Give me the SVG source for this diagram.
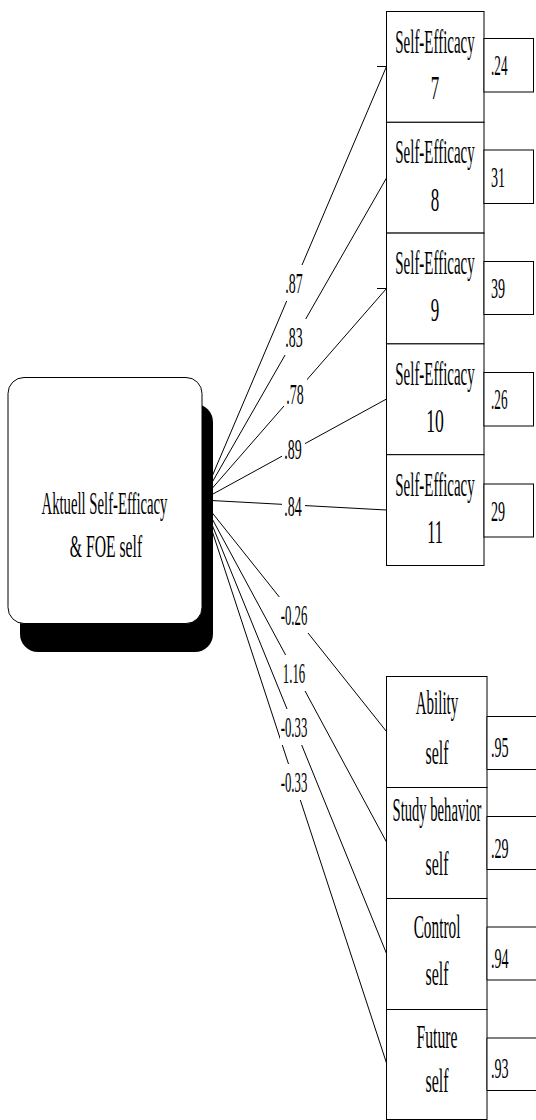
<svg xmlns="http://www.w3.org/2000/svg" width="536" height="1120" viewBox="0 0 536 1120">
  <style>
    .t { font-family: "Liberation Serif", "Times New Roman", serif; fill: #000; }
    .m { text-anchor: middle; }
    .box { fill: #fff; stroke: #000; stroke-width: 1; }
    .err { fill: #fff; stroke: #000; stroke-width: 1; }
    .ln { stroke: #000; stroke-width: 1; fill: none; }
    .gap { fill: #fff; stroke: none; }
    .bt { font-size: 34px; }
    .et { font-size: 30px; }
    .pt { font-size: 29px; }
  </style>
  <rect width="536" height="1120" fill="#fff"/>

  <!-- connectors: paths from the factor to each indicator -->
  <g id="connectors">
    <line class="ln" x1="202" y1="500" x2="386.5" y2="66.5"/>
    <line class="ln" x1="202" y1="500" x2="386.5" y2="178"/>
    <line class="ln" x1="202" y1="500" x2="386.5" y2="288.5"/>
    <line class="ln" x1="202" y1="500" x2="386.5" y2="399"/>
    <line class="ln" x1="202" y1="500" x2="386.5" y2="510"/>
    <line class="ln" x1="202" y1="500" x2="386.5" y2="731.5"/>
    <line class="ln" x1="202" y1="500" x2="386.5" y2="842"/>
    <line class="ln" x1="202" y1="500" x2="386.5" y2="953.5"/>
    <line class="ln" x1="202" y1="500" x2="386.5" y2="1063"/>
    <!-- arrow-end ticks -->
    <line class="ln" x1="377" y1="66.5" x2="386.5" y2="66.5"/>
    <line class="ln" x1="377" y1="288.5" x2="386.5" y2="288.5"/>
    <line class="ln" x1="435" y1="344" x2="435" y2="368"/>

    <!-- path coefficients -->
    <rect class="gap" x="283" y="265" width="23" height="36"/>
    <text class="t pt m" transform="translate(294 293) scale(0.48 1)">.87</text>
    <rect class="gap" x="283" y="319" width="23" height="36"/>
    <text class="t pt m" transform="translate(294 347) scale(0.48 1)">.83</text>
    <rect class="gap" x="284" y="376" width="23" height="36"/>
    <text class="t pt m" transform="translate(295 404) scale(0.48 1)">.78</text>
    <rect class="gap" x="282" y="431" width="23" height="36"/>
    <text class="t pt m" transform="translate(293 459) scale(0.48 1)">.89</text>
    <rect class="gap" x="282" y="490" width="23" height="34"/>
    <text class="t pt m" transform="translate(293 516) scale(0.48 1)">.84</text>

    <rect class="gap" x="279" y="597" width="30" height="36"/>
    <text class="t pt m" transform="translate(294 625) scale(0.44 1)">-0.26</text>
    <rect class="gap" x="281" y="655" width="26" height="36"/>
    <text class="t pt m" transform="translate(294 683) scale(0.44 1)">1.16</text>
    <rect class="gap" x="280" y="709" width="28" height="36"/>
    <text class="t pt m" transform="translate(294 737) scale(0.44 1)">-0.33</text>
    <rect class="gap" x="280" y="764" width="28" height="36"/>
    <text class="t pt m" transform="translate(294 792) scale(0.44 1)">-0.33</text>
  </g>

  <!-- latent factor with drop shadow -->
  <g id="factor">
    <rect x="20" y="404" width="193" height="248" rx="18" ry="18" fill="#000"/>
    <rect x="8" y="377.5" width="194" height="246" rx="16" ry="16" fill="#fff" stroke="#000" stroke-width="1"/>
    <text class="t m" font-size="32" transform="translate(104.5 514) scale(0.46 1)">Aktuell Self-Efficacy</text>
    <text class="t m" font-size="32" transform="translate(106 557) scale(0.49 1)">&amp; FOE self</text>
  </g>

  <!-- self-efficacy indicators -->
  <g id="se7">
    <rect class="box" x="386.5" y="11.5" width="97.5" height="110.8"/>
    <text class="t bt m" transform="translate(435 52.5) scale(0.44 1)">Self-Efficacy</text>
    <text class="t bt m" transform="translate(435 98.5) scale(0.5 1)">7</text>
    <rect class="err" x="484" y="38.5" width="49.5" height="53.5"/>
    <text class="t et" transform="translate(491 75) scale(0.44 1)">.24</text>
  </g>
  <g id="se8">
    <rect class="box" x="386.5" y="122.3" width="97.5" height="110.8"/>
    <text class="t bt m" transform="translate(435 163.3) scale(0.44 1)">Self-Efficacy</text>
    <text class="t bt m" transform="translate(435 210.5) scale(0.5 1)">8</text>
    <rect class="err" x="484" y="150" width="49.5" height="53.5"/>
    <text class="t et" transform="translate(491 186.5) scale(0.47 1)">31</text>
  </g>
  <g id="se9">
    <rect class="box" x="386.5" y="233.1" width="97.5" height="110.8"/>
    <text class="t bt m" transform="translate(435 274.1) scale(0.44 1)">Self-Efficacy</text>
    <text class="t bt m" transform="translate(435 321) scale(0.5 1)">9</text>
    <rect class="err" x="484" y="261.5" width="49.5" height="53"/>
    <text class="t et" transform="translate(491 298) scale(0.47 1)">39</text>
  </g>
  <g id="se10">
    <rect class="box" x="386.5" y="343.9" width="97.5" height="110.8"/>
    <text class="t bt m" transform="translate(435 384.9) scale(0.44 1)">Self-Efficacy</text>
    <text class="t bt m" transform="translate(435 432) scale(0.52 1)">10</text>
    <rect class="err" x="484" y="372.5" width="49.5" height="53.5"/>
    <text class="t et" transform="translate(491 409) scale(0.44 1)">.26</text>
  </g>
  <g id="se11">
    <rect class="box" x="386.5" y="454.7" width="97.5" height="110.8"/>
    <text class="t bt m" transform="translate(435 495.7) scale(0.44 1)">Self-Efficacy</text>
    <text class="t bt m" transform="translate(435 543) scale(0.48 1)">11</text>
    <rect class="err" x="484" y="484" width="49.5" height="53"/>
    <text class="t et" transform="translate(491 520.5) scale(0.47 1)">29</text>
  </g>

  <!-- FOE self indicators -->
  <g id="ability">
    <rect class="box" x="386.5" y="676.5" width="100.5" height="111"/>
    <text class="t bt m" transform="translate(437 714) scale(0.44 1)">Ability</text>
    <text class="t bt m" transform="translate(437 764) scale(0.47 1)">self</text>
    <path class="err" d="M540 716.5 H487 V769.5 H540"/>
    <text class="t et" transform="translate(491 757) scale(0.47 1)">.95</text>
  </g>
  <g id="study">
    <rect class="box" x="386.5" y="787.5" width="100.5" height="111"/>
    <text class="t bt m" transform="translate(437 821) scale(0.43 1)">Study behavior</text>
    <text class="t bt m" transform="translate(437 875) scale(0.47 1)">self</text>
    <path class="err" d="M540 816.5 H487 V869.5 H540"/>
    <text class="t et" transform="translate(491 858) scale(0.47 1)">.29</text>
  </g>
  <g id="control">
    <rect class="box" x="386.5" y="898.5" width="100.5" height="111"/>
    <text class="t bt m" transform="translate(437 938) scale(0.45 1)">Control</text>
    <text class="t bt m" transform="translate(437 985) scale(0.47 1)">self</text>
    <path class="err" d="M540 927 H487 V980 H540"/>
    <text class="t et" transform="translate(491 968) scale(0.47 1)">.94</text>
  </g>
  <g id="future">
    <rect class="box" x="386.5" y="1009.5" width="100.5" height="110"/>
    <text class="t bt m" transform="translate(437 1048) scale(0.46 1)">Future</text>
    <text class="t bt m" transform="translate(437 1092) scale(0.47 1)">self</text>
    <path class="err" d="M540 1038 H487 V1090.5 H540"/>
    <text class="t et" transform="translate(491 1078) scale(0.47 1)">.93</text>
  </g>
</svg>
